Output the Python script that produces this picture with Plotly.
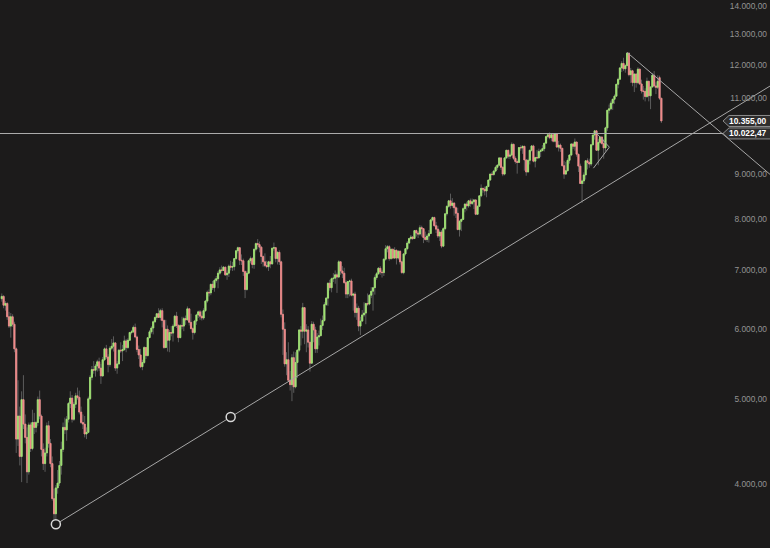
import math
import pandas as pd
import plotly.graph_objects as go

# ---------------- data (weekly candles, Fridays) ----------------
START_DATE = "2008-08-15"

OPEN = [
    # 2008
    6500, 6540, 6390, 6420, 6200, 6050, 6200, 6080, 5700, 4500, 4780, 4300, 4990, 4680, 4520, 4130, 4670, 4390, 4700, 4640,
    # 2009
    4700, 4990, 4780, 4380, 4220, 4340, 4660, 4450, 4220, 3850, 3700, 3960, 4010, 4200, 4380, 4640, 4610, 4740, 4940, 5010,
    4740, 4930, 5040, 5020, 4830, 4700, 4680, 4560, 4580, 5000, 5290, 5400, 5390, 5450, 5510, 5420, 5310, 5540, 5700, 5580,
    5470, 5710, 5740, 5790, 5420, 5480, 5680, 5670, 5690, 5820, 5720, 5830,
    # 2010
    5950, 5960, 6030, 5880, 5690, 5610, 5440, 5500, 5720, 5600, 5870, 5960, 6020, 6120, 6190, 6250, 6190, 6300, 6140, 5720,
    6000, 5830, 5950, 5940, 6050, 6210, 6060, 5870, 6060, 6050, 6170, 6150, 6330, 6110, 6010, 5950, 6130, 6230, 6280, 6210,
    6180, 6300, 6460, 6610, 6600, 6750, 6690, 6820, 6850, 6950, 7010, 7000, 7060,
    # 2011
    6920, 6950, 7080, 7060, 7070, 7220, 7370, 7430, 7190, 7180, 6980, 6660, 6950, 7180, 7220, 7110, 7400, 7510, 7490, 7440,
    7260, 7160, 7090, 7070, 7160, 7120, 7420, 7430, 7220, 7340, 7160, 6240, 6000, 5480, 5540, 5250, 5190, 5570, 5160, 5500,
    5680, 5990, 5970, 6350, 5970, 5990, 5800, 5490, 6080, 5990, 5700, 5880,
    # 2012
    5900, 6060, 6140, 6400, 6510, 6770, 6690, 6850, 6860, 6920, 6880, 7160, 6990, 6950, 6780, 6580, 6800, 6810, 6560, 6580,
    6270, 6340, 6050, 6130, 6230, 6260, 6420, 6410, 6560, 6630, 6690, 6870, 6940, 7040, 6970, 6960, 7210, 7410, 7450, 7220,
    7400, 7230, 7380, 7230, 7360, 7160, 6960, 7310, 7410, 7520, 7610, 7640,
    # 2013
    7610, 7770, 7720, 7700, 7830, 7810, 7630, 7590, 7660, 7710, 7990, 8040, 7870, 7800, 7660, 7740, 7460, 7810, 8120, 8280,
    8400, 8300, 8350, 8250, 8130, 7790, 7960, 8000, 8230, 8330, 8290, 8400, 8340, 8380, 8420, 8110, 8280, 8510, 8680, 8660,
    8620, 8720, 8870, 9010, 9000, 9080, 9170, 9220, 9400, 9170, 9010, 9400,
    # 2014
    9590, 9440, 9470, 9740, 9390, 9310, 9290, 9660, 9650, 9690, 9350, 9060, 9340, 9590, 9700, 9320, 9410, 9400, 9560, 9580,
    9630, 9770, 9940, 9990, 9910, 9990, 9820, 10010, 9670, 9720, 9640, 9210, 9010, 9090, 9340, 9470, 9750, 9690, 9800, 9490,
    9200, 8790, 8850, 8990, 9330, 9290, 9250, 9730, 9980, 10090, 9590, 9790,
    # 2015
    9930, 9760, 9650, 10170, 10650, 10690, 10850, 10960, 11050, 11400, 11550, 11900, 12040, 11870, 11970, 12370, 11690, 11810,
    11450, 11710, 11450, 11860, 11410, 11200, 11190, 11040, 11490, 11060, 11320, 11670, 11350, 11310, 11600, 10990,
]

HIGH = [
    # 2008
    6590, 6560, 6460, 6440, 6280, 6260, 6240, 6120, 5720, 5250, 4900, 5100, 5320, 4800, 4640, 4700, 4700, 4860, 4820, 4720,
    # 2009
    5030, 5110, 4800, 4450, 4400, 4700, 4720, 4500, 4300, 3950, 3990, 4150, 4250, 4470, 4700, 4760, 4780, 4960, 5100, 5050,
    4960, 5080, 5150, 5110, 4900, 4800, 4780, 4640, 5030, 5320, 5450, 5520, 5480, 5540, 5570, 5480, 5580, 5720, 5760, 5620,
    5740, 5850, 5890, 5800, 5520, 5700, 5800, 5760, 5900, 5850, 5860, 5960,
    # 2010
    5990, 6060, 6090, 5900, 5750, 5700, 5540, 5740, 5720, 5880, 5990, 6050, 6140, 6200, 6260, 6340, 6330, 6340, 6160, 6150,
    6060, 5990, 6050, 6080, 6230, 6280, 6080, 6080, 6200, 6200, 6220, 6370, 6330, 6250, 6030, 6150, 6250, 6300, 6310, 6290,
    6340, 6480, 6640, 6660, 6760, 6810, 6850, 6900, 6990, 7060, 7090, 7080, 7070,
    # 2011
    7000, 7110, 7180, 7160, 7230, 7380, 7450, 7440, 7300, 7220, 7000, 6990, 7200, 7260, 7250, 7410, 7530, 7600, 7550, 7460,
    7280, 7320, 7180, 7180, 7270, 7430, 7530, 7440, 7360, 7380, 7180, 6320, 6110, 5650, 5800, 5380, 5620, 5660, 5650, 5700,
    6000, 6050, 6430, 6360, 6080, 6050, 5800, 6130, 6120, 6040, 5940, 5980,
    # 2012
    6170, 6220, 6440, 6530, 6780, 6830, 6870, 6950, 7000, 6960, 7190, 7160, 7080, 7050, 6820, 6810, 6830, 6850, 6600, 6620,
    6420, 6380, 6200, 6310, 6440, 6430, 6590, 6580, 6700, 6700, 6910, 6970, 7060, 7080, 7010, 7220, 7480, 7480, 7480, 7410,
    7410, 7440, 7390, 7380, 7380, 7180, 7320, 7420, 7560, 7620, 7680, 7660,
    # 2013
    7780, 7790, 7760, 7880, 7870, 7820, 7750, 7700, 7780, 8010, 8060, 8060, 7950, 7870, 7790, 7780, 7840, 8130, 8300, 8420,
    8560, 8460, 8370, 8280, 8250, 7990, 8020, 8260, 8340, 8380, 8420, 8450, 8450, 8440, 8430, 8300, 8530, 8770, 8690, 8720,
    8740, 8880, 9020, 9060, 9110, 9210, 9250, 9420, 9410, 9200, 9420, 9600,
    # 2014
    9600, 9530, 9790, 9760, 9440, 9360, 9670, 9720, 9710, 9700, 9370, 9380, 9600, 9720, 9730, 9430, 9600, 9630, 9620, 9720,
    9780, 9960, 10010, 10050, 10000, 10000, 10030, 10010, 9830, 9760, 9640, 9330, 9300, 9390, 9490, 9760, 9760, 9890, 9800, 9500,
    9260, 8880, 9050, 9340, 9390, 9380, 9740, 9990, 10100, 10110, 9880, 9950,
    # 2015
    9930, 9880, 10200, 10660, 10810, 10920, 10980, 11100, 11410, 11600, 11920, 12110, 12220, 12010, 12390, 12380, 11900, 11840,
    11720, 11730, 11920, 11870, 11540, 11350, 11280, 11600, 11500, 11330, 11740, 11800, 11460, 11670, 11660, 11000,
]

LOW = [
    # 2008
    6450, 6340, 6300, 6150, 6020, 5870, 6040, 5650, 4340, 4420, 4200, 4020, 4620, 4450, 4010, 4100, 4350, 4370, 4560, 4580,
    # 2009
    4660, 4740, 4300, 4150, 4130, 4300, 4400, 4180, 3830, 3590, 3640, 3900, 3980, 4100, 4350, 4560, 4480, 4700, 4880, 4700,
    4720, 4880, 4990, 4800, 4680, 4620, 4520, 4500, 4570, 4990, 5250, 5340, 5300, 5370, 5380, 5200, 5300, 5520, 5550, 5360,
    5440, 5680, 5660, 5380, 5340, 5470, 5640, 5520, 5670, 5650, 5700, 5820,
    # 2010
    5920, 5940, 5860, 5650, 5550, 5420, 5390, 5480, 5550, 5590, 5860, 5930, 5920, 6100, 6150, 6180, 6140, 6030, 5700, 5710,
    5660, 5650, 5890, 5810, 6040, 6020, 5800, 5860, 6000, 5970, 6070, 6140, 6060, 6000, 5840, 5920, 6070, 6180, 6150, 6140,
    6150, 6280, 6430, 6540, 6560, 6650, 6620, 6780, 6680, 6920, 6960, 6990, 6900,
    # 2011
    6830, 6880, 7000, 6990, 7000, 7200, 7320, 7100, 7100, 6900, 6510, 6640, 6930, 7130, 7040, 7030, 7360, 7400, 7340, 7120,
    7070, 7060, 7040, 6990, 7040, 7110, 7370, 7150, 7110, 7100, 6190, 5610, 5440, 5320, 5230, 5110, 4970, 5080, 5140, 5280,
    5650, 5750, 5860, 5770, 5650, 5720, 5370, 5480, 5800, 5640, 5640, 5750,
    # 2012
    5890, 5990, 6120, 6380, 6380, 6640, 6610, 6790, 6760, 6600, 6860, 6920, 6860, 6760, 6510, 6510, 6540, 6540, 6300, 6190,
    6150, 5970, 5910, 6120, 6200, 6080, 6380, 6390, 6510, 6300, 6570, 6830, 6920, 6920, 6870, 6900, 7180, 7340, 7180, 7200,
    7210, 7220, 7110, 7200, 7110, 6940, 6930, 7280, 7380, 7500, 7580, 7580,
    # 2013
    7600, 7650, 7620, 7670, 7650, 7520, 7570, 7540, 7530, 7700, 7960, 7850, 7720, 7620, 7560, 7420, 7440, 7780, 8080, 8250,
    8230, 8250, 8080, 8030, 7780, 7650, 7760, 7990, 8150, 8190, 8250, 8270, 8310, 8220, 8090, 8100, 8270, 8480, 8580, 8520,
    8480, 8710, 8850, 8970, 8970, 9050, 9110, 9210, 9110, 8960, 8980, 9380,
    # 2014
    9380, 9370, 9440, 9350, 9260, 9020, 9280, 9580, 9500, 9090, 8970, 9050, 9240, 9560, 9290, 9170, 9370, 9390, 9420, 9570,
    9560, 9760, 9890, 9870, 9820, 9790, 9790, 9650, 9560, 9550, 9190, 8900, 8990, 9070, 9260, 9440, 9620, 9580, 9430, 9060,
    8780, 8360, 8780, 8880, 9120, 9160, 9200, 9710, 9860, 9580, 9220, 9750,
    # 2015
    9730, 9380, 9560, 10090, 10560, 10650, 10660, 10830, 11040, 11280, 11530, 11770, 11800, 11750, 11960, 11640, 11440, 11340,
    11170, 11300, 11400, 11380, 11130, 10950, 10900, 11000, 10900, 10680, 11300, 11300, 11110, 11260, 10940, 10300,
]

CLOSE = [
    # 2008
    6540, 6390, 6420, 6200, 6050, 6200, 6080, 5700, 4500, 4780, 4300, 4990, 4680, 4520, 4130, 4670, 4390, 4700, 4640, 4700,
    # 2009
    4990, 4780, 4380, 4220, 4340, 4660, 4450, 4220, 3850, 3700, 3960, 4010, 4200, 4380, 4640, 4610, 4740, 4940, 5010, 4740,
    4930, 5040, 5020, 4830, 4700, 4680, 4560, 4580, 5000, 5290, 5400, 5390, 5450, 5510, 5420, 5310, 5540, 5700, 5580, 5470,
    5710, 5740, 5790, 5420, 5480, 5680, 5670, 5690, 5820, 5720, 5830, 5950,
    # 2010
    5960, 6030, 5880, 5690, 5610, 5440, 5500, 5720, 5600, 5870, 5960, 6020, 6120, 6190, 6250, 6190, 6300, 6140, 5720, 6000,
    5830, 5950, 5940, 6050, 6210, 6060, 5870, 6060, 6050, 6170, 6150, 6330, 6110, 6010, 5950, 6130, 6230, 6280, 6210, 6180,
    6300, 6460, 6610, 6600, 6750, 6690, 6820, 6850, 6950, 7010, 7000, 7060, 6920,
    # 2011
    6950, 7080, 7060, 7070, 7220, 7370, 7430, 7190, 7180, 6980, 6660, 6950, 7180, 7220, 7110, 7400, 7510, 7490, 7440, 7260,
    7160, 7090, 7070, 7160, 7120, 7420, 7430, 7220, 7340, 7160, 6240, 6000, 5480, 5540, 5250, 5190, 5570, 5160, 5500, 5680,
    5990, 5970, 6350, 5970, 5990, 5800, 5490, 6080, 5990, 5700, 5880, 5900,
    # 2012
    6060, 6140, 6400, 6510, 6770, 6690, 6850, 6860, 6920, 6880, 7160, 6990, 6950, 6780, 6580, 6800, 6810, 6560, 6580, 6270,
    6340, 6050, 6130, 6230, 6260, 6420, 6410, 6560, 6630, 6690, 6870, 6940, 7040, 6970, 6960, 7210, 7410, 7450, 7220, 7400,
    7230, 7380, 7230, 7360, 7160, 6960, 7310, 7410, 7520, 7610, 7640, 7610,
    # 2013
    7770, 7720, 7700, 7830, 7810, 7630, 7590, 7660, 7710, 7990, 8040, 7870, 7800, 7660, 7740, 7460, 7810, 8120, 8280, 8400,
    8300, 8350, 8250, 8130, 7790, 7960, 8000, 8230, 8330, 8290, 8400, 8340, 8380, 8420, 8110, 8280, 8510, 8680, 8660, 8620,
    8720, 8870, 9010, 9000, 9080, 9170, 9220, 9400, 9170, 9010, 9400, 9590,
    # 2014
    9440, 9470, 9740, 9390, 9310, 9290, 9660, 9650, 9690, 9350, 9060, 9340, 9590, 9700, 9320, 9410, 9400, 9560, 9580, 9630,
    9770, 9940, 9990, 9910, 9990, 9820, 10010, 9670, 9720, 9640, 9210, 9010, 9090, 9340, 9470, 9750, 9690, 9800, 9490, 9200,
    8790, 8850, 8990, 9330, 9290, 9250, 9730, 9980, 10090, 9590, 9790, 9930,
    # 2015
    9760, 9650, 10170, 10650, 10690, 10850, 10960, 11050, 11400, 11550, 11900, 12040, 11870, 11970, 12370, 11690, 11810, 11450,
    11710, 11450, 11860, 11410, 11200, 11190, 11040, 11490, 11060, 11320, 11670, 11350, 11310, 11490, 10990, 10355,
]

# price axis
TICK_VALUES = [4000, 5000, 6000, 7000, 8000, 9000, 11000, 12000, 13000, 14000]
TICK_LABELS = ["4.000,00", "5.000,00", "6.000,00", "7.000,00", "8.000,00", "9.000,00",
               "11.000,00", "12.000,00", "13.000,00", "14.000,00"]

# drawn objects (anchor points in date / price)
SUPPORT_DATES = ["2009-03-13", "2011-01-21"]
SUPPORT_VALUES = [3600, 4768]
RESIST_DATES = ["2015-04-10", "2016-01-19"]
RESIST_VALUES = [12390, 10522]
PENNANT_LOWER_DATES = ["2014-11-30", "2015-01-31"]
PENNANT_LOWER_VALUES = [9150, 9669]
PENNANT_UPPER_DATES = ["2014-12-06", "2015-01-31"]
PENNANT_UPPER_VALUES = [10072, 9669]
HLINE_VALUE = 10022.47
PRICE_TAGS = [10355.00, 10022.47]
PRICE_TAG_TEXT = ["10.355,00", "10.022,47"]

# ---------------- style ----------------
BG = "#1c1b1b"
UP = "#a2e673"
DOWN = "#f38b8b"
WICK = "#5c5c5c"
DRAW = "#a6a6a6"
FONT = "Liberation Sans, Arial, sans-serif"

W, H = 770, 548
Y_LO, Y_HI = 3383.0, 14216.0
Y_RANGE = [math.log10(Y_LO), math.log10(Y_HI)]
PX_PER_LN = H / (math.log(Y_HI) - math.log(Y_LO))
X_RANGE = ["2008-08-08", "2016-10-16"]
X_FAR = "2017-08-01"

dates = pd.date_range(START_DATE, periods=len(CLOSE), freq="W-FRI")


def extend(d0, v0, d1, v1, d_end):
    t0, t1, te = [pd.Timestamp(d).value for d in (d0, d1, d_end)]
    l0, l1 = math.log(v0), math.log(v1)
    return math.exp(l0 + (l1 - l0) * (te - t0) / (t1 - t0))


fig = go.Figure()

# wicks (grey)
fig.add_trace(go.Candlestick(
    x=dates, open=OPEN, high=HIGH, low=LOW, close=CLOSE,
    increasing=dict(line=dict(color=WICK, width=1), fillcolor=WICK),
    decreasing=dict(line=dict(color=WICK, width=1), fillcolor=WICK),
    whiskerwidth=0, hoverinfo="skip", showlegend=False,
))
# coloured bodies
body_hi = [max(o, c) for o, c in zip(OPEN, CLOSE)]
body_lo = [min(o, c) for o, c in zip(OPEN, CLOSE)]
fig.add_trace(go.Candlestick(
    x=dates, open=OPEN, high=body_hi, low=body_lo, close=CLOSE,
    increasing=dict(line=dict(color=UP, width=0.8), fillcolor=UP),
    decreasing=dict(line=dict(color=DOWN, width=0.8), fillcolor=DOWN),
    whiskerwidth=0, showlegend=False, name="",
))

# horizontal line
fig.add_trace(go.Scatter(
    x=[X_RANGE[0], X_FAR], y=[HLINE_VALUE, HLINE_VALUE], mode="lines",
    line=dict(color="#ababab", width=1.1), hoverinfo="skip", showlegend=False,
))

# rising support line
sup_end = extend(SUPPORT_DATES[0], SUPPORT_VALUES[0], SUPPORT_DATES[1], SUPPORT_VALUES[1], X_FAR)
fig.add_trace(go.Scatter(
    x=[SUPPORT_DATES[0], SUPPORT_DATES[1], X_FAR], y=[SUPPORT_VALUES[0], SUPPORT_VALUES[1], sup_end],
    mode="lines", line=dict(color=DRAW, width=1), hoverinfo="skip", showlegend=False,
))
# descending resistance line
res_end = extend(RESIST_DATES[0], RESIST_VALUES[0], RESIST_DATES[1], RESIST_VALUES[1], X_FAR)
fig.add_trace(go.Scatter(
    x=[RESIST_DATES[0], X_FAR], y=[RESIST_VALUES[0], res_end],
    mode="lines", line=dict(color=DRAW, width=1), hoverinfo="skip", showlegend=False,
))
# pennant
for dd, vv in ((PENNANT_LOWER_DATES, PENNANT_LOWER_VALUES), (PENNANT_UPPER_DATES, PENNANT_UPPER_VALUES)):
    fig.add_trace(go.Scatter(
        x=dd, y=vv, mode="lines", line=dict(color=DRAW, width=1),
        hoverinfo="skip", showlegend=False,
    ))

# anchor circles
fig.add_trace(go.Scatter(
    x=SUPPORT_DATES, y=SUPPORT_VALUES, mode="markers",
    marker=dict(size=9, color=BG, line=dict(color="#d8d8d8", width=1.5)),
    hoverinfo="skip", showlegend=False,
))

# price tags (pixel-x overlay axis)
half = 5.5
for v in PRICE_TAGS:
    top = v * math.exp(half / PX_PER_LN)
    bot = v * math.exp(-half / PX_PER_LN)
    fig.add_trace(go.Scatter(
        x=[723, 729, 772, 772, 729, 723], y=[v, top, top, bot, bot, v],
        xaxis="x2", yaxis="y", mode="lines", fill="toself", fillcolor="#2e2d2d",
        line=dict(color="#8c8c8c", width=1), hoverinfo="skip", showlegend=False,
    ))

annotations = []
for v, t in zip(PRICE_TAGS, PRICE_TAG_TEXT):
    annotations.append(dict(
        x=769, y=math.log10(v), xref="x2", yref="y", text="<b>%s</b>" % t,
        showarrow=False, xanchor="right", yanchor="middle",
        font=dict(color="#ffffff", size=8.4, family=FONT),
    ))

fig.update_layout(
    width=W, height=H,
    margin=dict(l=0, r=0, t=0, b=0),
    paper_bgcolor=BG, plot_bgcolor=BG,
    showlegend=False,
    boxgap=0.1,
    hovermode=False,
    xaxis=dict(type="date", range=X_RANGE, visible=False, showgrid=False,
               rangeslider=dict(visible=False), fixedrange=True),
    xaxis2=dict(range=[0, W], overlaying="x", anchor="y", visible=False, showgrid=False),
    yaxis=dict(type="log", range=Y_RANGE, side="right", ticklabelposition="inside",
               tickmode="array", tickvals=TICK_VALUES, ticktext=TICK_LABELS,
               showgrid=False, zeroline=False, showline=False, ticks="",
               tickfont=dict(color="#939393", size=8.4, family=FONT)),
    annotations=annotations,
    font=dict(family=FONT),
)

fig.write_html(
    "out.html",
    config={"displayModeBar": False, "staticPlot": True},
    post_script="document.body.style.margin='0px';document.body.style.background='%s';" % BG,
)
